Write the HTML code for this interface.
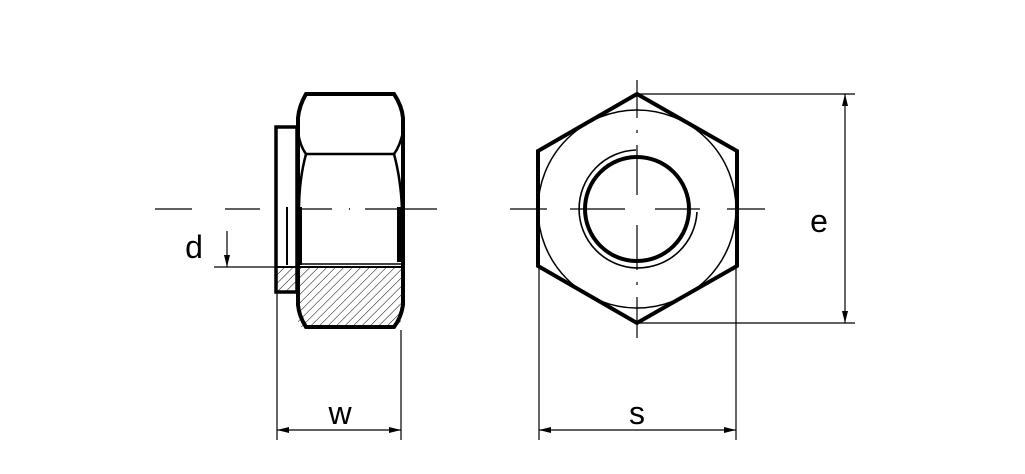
<!DOCTYPE html>
<html><head><style>html,body{margin:0;padding:0;background:#fff}svg{display:block}</style></head>
<body>
<svg width="1025" height="474" viewBox="0 0 1025 474" xmlns="http://www.w3.org/2000/svg">
<defs>
<pattern id="h" patternUnits="userSpaceOnUse" width="6" height="6" patternTransform="rotate(45)">
<line x1="0" y1="0" x2="0" y2="6" stroke="#000" stroke-width="1"/>
</pattern>
<marker id="a" viewBox="0 0 12 6" refX="12" refY="3" markerWidth="12" markerHeight="6" orient="auto-start-reverse" markerUnits="userSpaceOnUse"><path d="M0,0L12,3L0,6z"/></marker>
</defs>
<rect width="1025" height="474" fill="#fff"/>
<g fill="none" stroke="#000">
<path d="M155 209H192M225 209H260M300 209H332M365 209H437" stroke-width="1.2"/>
<path d="M349 209h1" stroke-width="1.5"/>
<path d="M510 209H547M570 209H625M655 209H700M727 209H765" stroke-width="1.2"/>
<path d="M637 80V118M637 130V133M637 145V195M637 225V270M637 282V285M637 297V338" stroke-width="1.2"/>

<rect x="298" y="266" width="103" height="61" fill="url(#h)" stroke="none"/>
<rect x="276" y="266" width="20" height="25" fill="url(#h)" stroke="none"/>
<rect x="276" y="127" width="21" height="165" stroke-width="3.5"/>
<path d="M306 94H394Q402 106 403 118V305Q401 318 394 327H306Q299 316 298 305V118Q299 106 306 94Z" stroke-width="4"/>
<path d="M298 132Q300 146 306 154H394Q400 146 403 132" stroke-width="2.5"/>
<path d="M306 154Q299 180 299 210" stroke-width="2.5"/>
<path d="M394 154Q401 180 402 210" stroke-width="2.5"/>
<path d="M287 207V265M301 207V265" stroke-width="2"/>
<path d="M399 207V262" stroke-width="4"/>
<path d="M297 264H402" stroke-width="1.5"/>
<path d="M276 267H404" stroke-width="2"/>

<polygon points="637,94 737,151 737,266 637,323 538,266 538,151" stroke-width="4" stroke-linejoin="miter"/>
<circle cx="637" cy="209" r="99" stroke-width="1.5"/>
<circle cx="637" cy="209" r="52" stroke-width="4"/>
<path d="M636 150A59 59 0 1 0 697 212" stroke-width="1.6"/>

<g stroke-width="1.2">
<path d="M277 293V440M401 330V440"/>
<path d="M277 430H401" marker-start="url(#a)" marker-end="url(#a)"/>
<path d="M539 268V440M736 268V440"/>
<path d="M539 430H736" marker-start="url(#a)" marker-end="url(#a)"/>
<path d="M637 94H855M637 323H855"/>
<path d="M845 94V323" marker-start="url(#a)" marker-end="url(#a)"/>
<path d="M214 267H298"/>
<path d="M227 231V267" marker-end="url(#a)"/>
</g>
</g>
<g font-family="Liberation Sans, DejaVu Sans, sans-serif" font-size="32" fill="#000" text-anchor="middle">
<text x="340" y="424">w</text>
<text x="637" y="424">s</text>
<text x="819" y="232">e</text>
<text x="194" y="258">d</text>
</g>
</svg>
</body></html>
